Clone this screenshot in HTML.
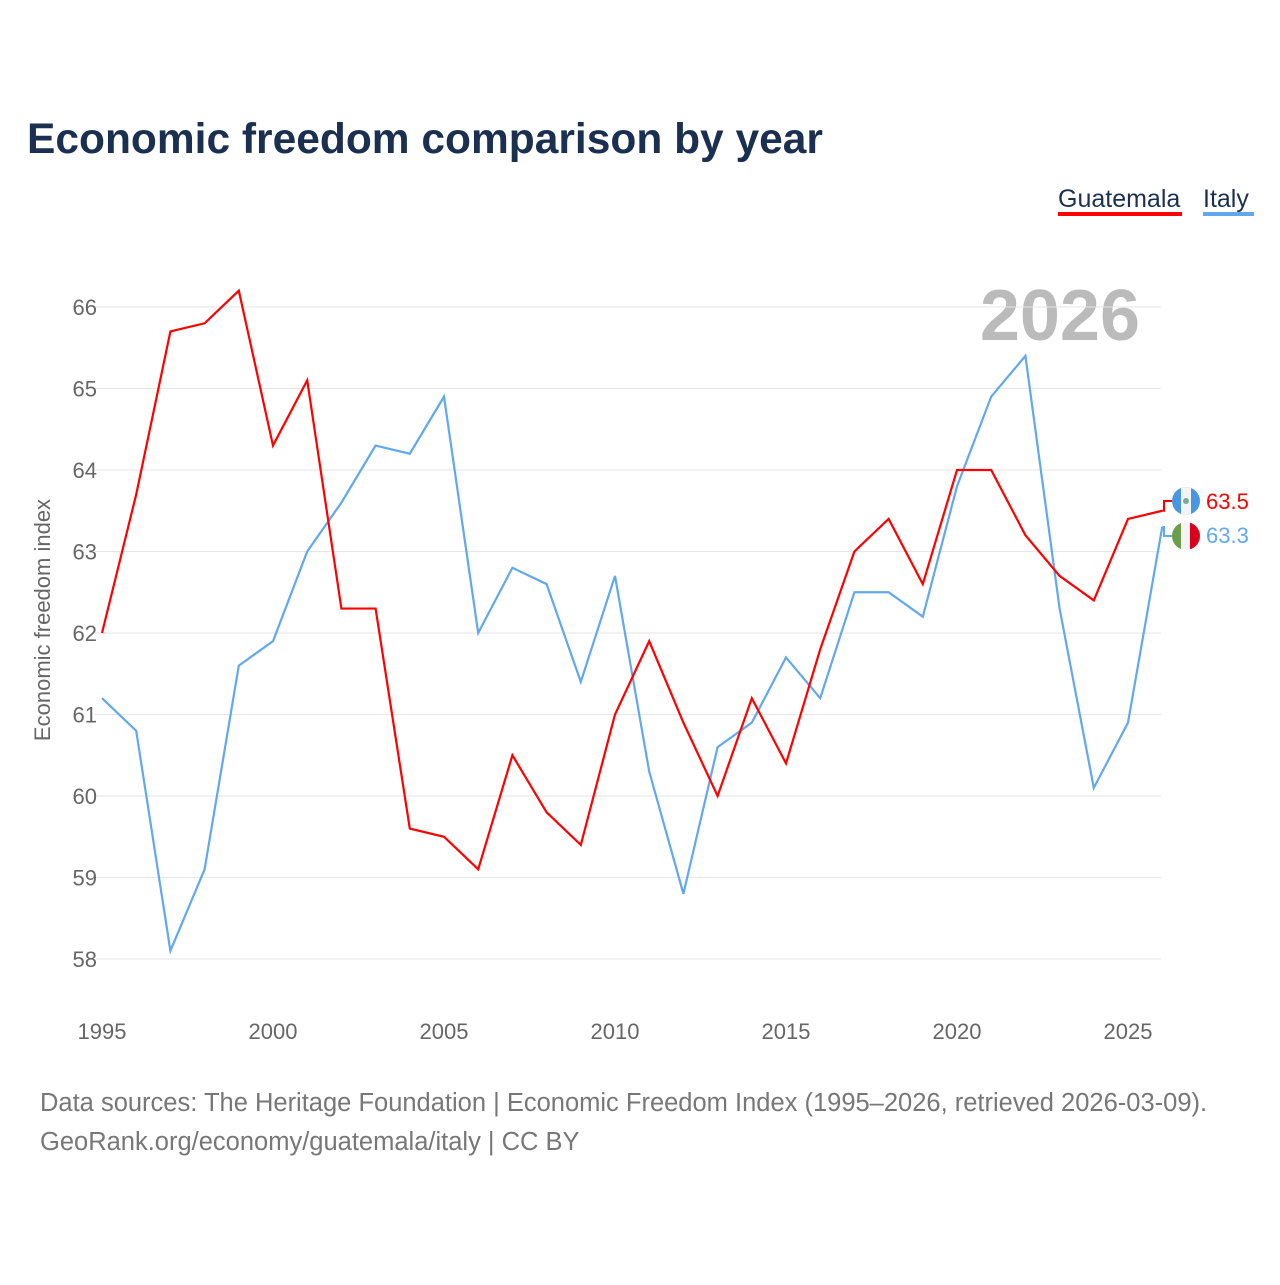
<!DOCTYPE html>
<html><head><meta charset="utf-8"><style>
body{margin:0;background:#fff;width:1280px;height:1280px;overflow:hidden;font-family:"Liberation Sans",sans-serif}
</style></head><body>
<svg width="1280" height="1280" id="c" style="font-family:'Liberation Sans',sans-serif">
<text x="27" y="153" font-size="42.5" font-weight="bold" fill="#1b3050">Economic freedom comparison by year</text>
<g><text x="1058" y="207" font-size="25" fill="#1b3050">Guatemala</text><rect x="1058" y="212" width="124" height="4" fill="#f00"/></g>
<g><text x="1203" y="207" font-size="25" fill="#1b3050">Italy</text><rect x="1203" y="212" width="51" height="4" fill="#62a8ec"/></g>
<text x="1140" y="340" font-size="72" font-weight="bold" fill="#bbb" text-anchor="end">2026</text>
<text transform="translate(50,620) rotate(-90)" font-size="22" fill="#666" text-anchor="middle">Economic freedom index</text>
<g id="grid"></g><g id="lines"></g>
<text x="40" y="1111" font-size="25.5" fill="#777">Data sources: The Heritage Foundation | Economic Freedom Index (1995–2026, retrieved 2026-03-09).</text>
<text x="40" y="1150" font-size="25.5" fill="#777">GeoRank.org/economy/guatemala/italy | CC BY</text>
<g><clipPath id="gc"><circle cx="1186" cy="501" r="14"/></clipPath><g clip-path="url(#gc)"><rect x="1172" y="487" width="28" height="28" fill="#4997e0"/><rect x="1181" y="487" width="10" height="28" fill="#f4f4f4"/></g><circle cx="1186" cy="501" r="3" fill="#7a9"/></g>
<g><clipPath id="ic"><circle cx="1186" cy="536" r="14"/></clipPath><g clip-path="url(#ic)"><rect x="1172" y="522" width="10" height="28" fill="#6a9e4a"/><rect x="1181" y="522" width="10" height="28" fill="#f4f4f4"/><rect x="1190" y="522" width="10" height="28" fill="#d9001e"/></g></g>
<text x="1206" y="509" font-size="22" fill="#f00">63.5</text>
<text x="1206" y="543" font-size="22" fill="#62a8ec">63.3</text>
</svg>
<script>
const years=[1995,1996,1997,1998,1999,2000,2001,2002,2003,2004,2005,2006,2007,2008,2009,2010,2011,2012,2013,2014,2015,2016,2017,2018,2019,2020,2021,2022,2023,2024,2025,2026];
const guatemala=[62.0,63.7,65.7,65.8,66.2,64.3,65.1,62.3,62.3,59.6,59.5,59.1,60.5,59.8,59.4,61.0,61.9,60.9,60.0,61.2,60.4,61.8,63.0,63.4,62.6,64.0,64.0,63.2,62.7,62.4,63.4,63.5];
const italy=[61.2,60.8,58.1,59.1,61.6,61.9,63.0,63.6,64.3,64.2,64.9,62.0,62.8,62.6,61.4,62.7,60.3,58.8,60.6,60.9,61.7,61.2,62.5,62.5,62.2,63.8,64.9,65.4,62.3,60.1,60.9,63.3];
const yTicks=[58,59,60,61,62,63,64,65,66];
const xTicks=[1995,2000,2005,2010,2015,2020,2025];
const NS="http://www.w3.org/2000/svg";
const X=v=>102+(v-1995)*34.2, Y=v=>307+(66-v)*81.5;
const grid=document.getElementById('grid'), lines=document.getElementById('lines');
function mk(t,a,p){const e=document.createElementNS(NS,t);for(const k in a)e.setAttribute(k,a[k]);p.appendChild(e);return e;}
yTicks.forEach(v=>{
 const l=mk('line',{x1:95,x2:1161,y1:Y(v),y2:Y(v),stroke:'#e6e6e6'},grid);
 
 
 const t=mk('text',{x:97,y:Y(v)+8,'font-size':22,fill:'#666','text-anchor':'end'},grid);t.textContent=v;
 
 
});
xTicks.forEach(v=>{
 const t=mk('text',{x:X(v),y:1039,'font-size':22,fill:'#666','text-anchor':'middle'},grid);t.textContent=v;
 
 
});
function line(d,c,n){
 const p=mk('polyline',{points:d.map((v,i)=>X(years[i])+','+Y(v)).join(' '),fill:'none',stroke:c,'stroke-width':2.2},lines);
 
 
}
line(italy,'#62a8ec','italy-line');
line(guatemala,'#ff0000','guatemala-line');
const last=years.length-1;
mk('polyline',{points:`${X(years[last])},${Y(guatemala[last])} 1164,${Y(guatemala[last])} 1164,501 1172,501`,fill:'none',stroke:'#f00','stroke-width':2},lines);
mk('polyline',{points:`${X(years[last])},${Y(italy[last])} 1164,${Y(italy[last])} 1164,536 1172,536`,fill:'none',stroke:'#62a8ec','stroke-width':2},lines);
</script>
</body></html>
